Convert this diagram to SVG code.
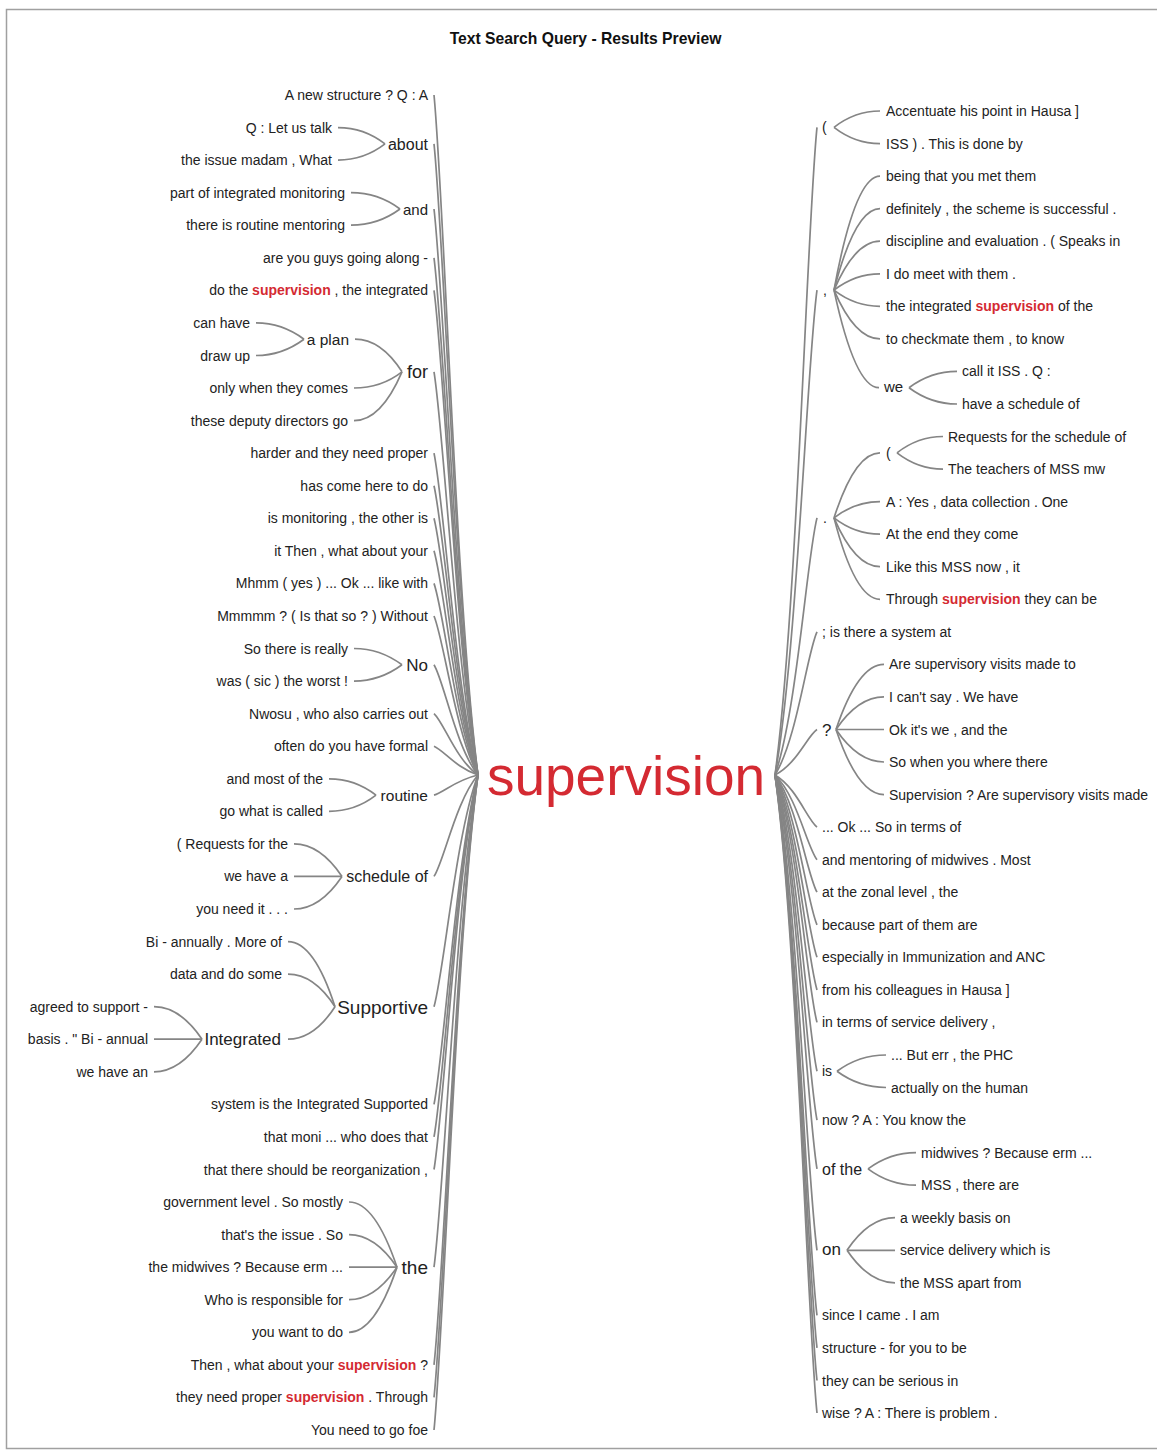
<svg xmlns="http://www.w3.org/2000/svg" width="1157" height="1452" viewBox="0 0 1157 1452">
<style>
text{font-family:"Liberation Sans",Arial,sans-serif;font-size:14px;fill:#222}
.l{text-anchor:end}
.h{fill:#d42a32;font-weight:bold}
#connectors path{fill:none;stroke:#858585;stroke-width:1.7}
</style>
<rect x="0" y="0" width="1157" height="1452" fill="#fff"/>
<rect x="6.5" y="9.5" width="1160" height="1439" fill="none" stroke="#a0a0a0" stroke-width="1.5"/>
<text x="585.5" y="44" text-anchor="middle" style="font-size:15.7px;font-weight:bold;fill:#111">Text Search Query - Results Preview</text>
<g id="root"><text x="626" y="795" text-anchor="middle" style="font-size:55px;fill:#d42a32">supervision</text></g>
<g id="connectors">
<path d="M434,95 C444,197 456,605 478,775"/>
<path d="M434,143.9 C444,238.6 456,617.2 478,775"/>
<path d="M434,209 C444,293.9 456,633.5 478,775"/>
<path d="M434,257.8 C444,335.4 456,645.7 478,775"/>
<path d="M434,290.4 C444,363.1 456,653.9 478,775"/>
<path d="M434,371.8 C444,432.3 456,674.2 478,775"/>
<path d="M434,453.2 C444,501.5 456,694.6 478,775"/>
<path d="M434,485.7 C444,529.1 456,702.7 478,775"/>
<path d="M434,518.3 C444,556.8 456,710.8 478,775"/>
<path d="M434,550.8 C444,584.4 456,719 478,775"/>
<path d="M434,583.4 C444,612.1 456,727.1 478,775"/>
<path d="M434,616 C444,639.9 456,735.3 478,775"/>
<path d="M434,664.8 C444,681.3 456,747.5 478,775"/>
<path d="M434,713.6 C444,722.8 456,759.7 478,775"/>
<path d="M434,746.2 C444,750.5 456,767.8 478,775"/>
<path d="M434,795.1 C444,792.1 456,780 478,775"/>
<path d="M434,876.4 C444,861.2 456,800.4 478,775"/>
<path d="M434,1006.7 C444,971.9 456,832.9 478,775"/>
<path d="M434,1104.4 C444,1055 456,857.4 478,775"/>
<path d="M434,1136.9 C444,1082.6 456,865.5 478,775"/>
<path d="M434,1169.5 C444,1110.3 456,873.6 478,775"/>
<path d="M434,1267.2 C444,1193.4 456,898.1 478,775"/>
<path d="M434,1364.8 C444,1276.3 456,922.5 478,775"/>
<path d="M434,1397.4 C444,1304 456,930.6 478,775"/>
<path d="M434,1430 C444,1331.8 456,938.8 478,775"/>
<path d="M338,127.6 Q364,127.6 385,143.9"/>
<path d="M338,160.1 Q364,160.1 385,143.9"/>
<path d="M351,192.7 Q378,192.7 400,209"/>
<path d="M351,225.2 Q378,225.2 400,209"/>
<path d="M355,339.2 Q381,339.2 402,371.8"/>
<path d="M354,388 Q381,388 402,371.8"/>
<path d="M354,420.6 Q381,420.6 402,371.8"/>
<path d="M256,322.9 Q282,322.9 304,339.2"/>
<path d="M256,355.5 Q282,355.5 304,339.2"/>
<path d="M354,648.5 Q380,648.5 402,664.8"/>
<path d="M354,681.1 Q380,681.1 402,664.8"/>
<path d="M329,778.8 Q355,778.8 376,795.1"/>
<path d="M329,811.3 Q355,811.3 376,795.1"/>
<path d="M294,843.9 Q320,843.9 342,876.4"/>
<path d="M294,876.4 L342,876.4"/>
<path d="M294,909 Q320,909 342,876.4"/>
<path d="M288,941.6 Q314,941.6 335,1006.7"/>
<path d="M288,974.1 Q314,974.1 335,1006.7"/>
<path d="M288,1039.2 Q314,1039.2 335,1006.7"/>
<path d="M154,1006.7 Q180,1006.7 202,1039.2"/>
<path d="M154,1039.2 L202,1039.2"/>
<path d="M154,1071.8 Q180,1071.8 202,1039.2"/>
<path d="M349,1202 Q375,1202 397,1267.2"/>
<path d="M349,1234.6 Q375,1234.6 397,1267.2"/>
<path d="M349,1267.2 L397,1267.2"/>
<path d="M349,1299.7 Q375,1299.7 397,1267.2"/>
<path d="M349,1332.3 Q375,1332.3 397,1267.2"/>
<path d="M775,775 C797,613.1 807,224.5 817,127.3"/>
<path d="M775,775 C797,653.8 807,362.8 817,290.1"/>
<path d="M775,775 C797,710.7 807,556.5 817,517.9"/>
<path d="M775,775 C797,739.2 807,653.3 817,631.8"/>
<path d="M775,775 C797,763.6 807,736.3 817,729.5"/>
<path d="M775,775 C797,788 807,819.3 817,827.1"/>
<path d="M775,775 C797,796.2 807,847 817,859.7"/>
<path d="M775,775 C797,804.3 807,874.6 817,892.2"/>
<path d="M775,775 C797,812.5 807,902.3 817,924.8"/>
<path d="M775,775 C797,820.6 807,930 817,957.3"/>
<path d="M775,775 C797,828.7 807,957.7 817,989.9"/>
<path d="M775,775 C797,836.9 807,985.3 817,1022.4"/>
<path d="M775,775 C797,849.1 807,1026.9 817,1071.3"/>
<path d="M775,775 C797,861.3 807,1068.3 817,1120.1"/>
<path d="M775,775 C797,873.5 807,1109.8 817,1168.9"/>
<path d="M775,775 C797,893.8 807,1179 817,1250.3"/>
<path d="M775,775 C797,910.1 807,1234.3 817,1315.4"/>
<path d="M775,775 C797,918.2 807,1262 817,1347.9"/>
<path d="M775,775 C797,926.4 807,1289.7 817,1380.5"/>
<path d="M775,775 C797,934.5 807,1317.3 817,1413"/>
<path d="M834,127.3 Q855,111 880,111"/>
<path d="M834,127.3 Q855,143.6 880,143.6"/>
<path d="M834,290.1 Q855,176.1 880,176.1"/>
<path d="M834,290.1 Q855,208.7 880,208.7"/>
<path d="M834,290.1 Q855,241.2 880,241.2"/>
<path d="M834,290.1 Q855,273.8 880,273.8"/>
<path d="M834,290.1 Q855,306.3 880,306.3"/>
<path d="M834,290.1 Q855,338.9 880,338.9"/>
<path d="M834,290.1 Q855,387.7 879,387.7"/>
<path d="M909,387.7 Q931,371.4 957,371.4"/>
<path d="M909,387.7 Q931,404 957,404"/>
<path d="M834,517.9 Q855,452.8 880,452.8"/>
<path d="M834,517.9 Q855,501.6 880,501.6"/>
<path d="M834,517.9 Q855,534.2 880,534.2"/>
<path d="M834,517.9 Q855,566.7 880,566.7"/>
<path d="M834,517.9 Q855,599.3 880,599.3"/>
<path d="M897,452.8 Q918,436.5 943,436.5"/>
<path d="M897,452.8 Q918,469.1 943,469.1"/>
<path d="M836,729.5 Q858,664.4 884,664.4"/>
<path d="M836,729.5 Q858,696.9 884,696.9"/>
<path d="M836,729.5 L884,729.5"/>
<path d="M836,729.5 Q858,762 884,762"/>
<path d="M836,729.5 Q858,794.6 884,794.6"/>
<path d="M837,1071.3 Q859,1055 886,1055"/>
<path d="M837,1071.3 Q859,1087.5 886,1087.5"/>
<path d="M868,1168.9 Q890,1152.6 916,1152.6"/>
<path d="M868,1168.9 Q890,1185.2 916,1185.2"/>
<path d="M847,1250.3 Q869,1217.7 895,1217.7"/>
<path d="M847,1250.3 L895,1250.3"/>
<path d="M847,1250.3 Q869,1282.8 895,1282.8"/>
</g>
<g id="L0"><text class="l" x="428" y="100">A new structure ? Q : A</text></g>
<g id="L-about"><text class="l" x="428" y="149.9" style="font-size:16px">about</text></g>
<g id="L1"><text class="l" x="332" y="132.6">Q : Let us talk</text></g>
<g id="L2"><text class="l" x="332" y="165.1">the issue madam , What</text></g>
<g id="L-and"><text class="l" x="428" y="214.5" style="font-size:15px">and</text></g>
<g id="L3"><text class="l" x="345" y="197.7">part of integrated monitoring</text></g>
<g id="L4"><text class="l" x="345" y="230.2">there is routine mentoring</text></g>
<g id="L5"><text class="l" x="428" y="262.8">are you guys going along -</text></g>
<g id="L6"><text class="l" x="428" y="295.4">do the <tspan class="h">supervision</tspan> , the integrated</text></g>
<g id="L-for"><text class="l" x="428" y="378.3" style="font-size:18px">for</text></g>
<g id="L-aplan"><text class="l" x="349" y="344.7" style="font-size:15.5px">a plan</text></g>
<g id="L7"><text class="l" x="250" y="327.9">can have</text></g>
<g id="L8"><text class="l" x="250" y="360.5">draw up</text></g>
<g id="L9"><text class="l" x="348" y="393">only when they comes</text></g>
<g id="L10"><text class="l" x="348" y="425.6">these deputy directors go</text></g>
<g id="L11"><text class="l" x="428" y="458.2">harder and they need proper</text></g>
<g id="L12"><text class="l" x="428" y="490.7">has come here to do</text></g>
<g id="L13"><text class="l" x="428" y="523.3">is monitoring , the other is</text></g>
<g id="L14"><text class="l" x="428" y="555.8">it Then , what about your</text></g>
<g id="L15"><text class="l" x="428" y="588.4">Mhmm ( yes ) ... Ok ... like with</text></g>
<g id="L16"><text class="l" x="428" y="621">Mmmmm ? ( Is that so ? ) Without</text></g>
<g id="L-No"><text class="l" x="428" y="670.8" style="font-size:17px">No</text></g>
<g id="L17"><text class="l" x="348" y="653.5">So there is really</text></g>
<g id="L18"><text class="l" x="348" y="686.1">was ( sic ) the worst !</text></g>
<g id="L19"><text class="l" x="428" y="718.6">Nwosu , who also carries out</text></g>
<g id="L20"><text class="l" x="428" y="751.2">often do you have formal</text></g>
<g id="L-routine"><text class="l" x="428" y="800.6" style="font-size:15.5px">routine</text></g>
<g id="L21"><text class="l" x="323" y="783.8">and most of the</text></g>
<g id="L22"><text class="l" x="323" y="816.3">go what is called</text></g>
<g id="L-schedule"><text class="l" x="428" y="882.4" style="font-size:16px">schedule of</text></g>
<g id="L23"><text class="l" x="288" y="848.9">( Requests for the</text></g>
<g id="L24"><text class="l" x="288" y="881.4">we have a</text></g>
<g id="L25"><text class="l" x="288" y="914">you need it . . .</text></g>
<g id="L-supportive"><text class="l" x="428" y="1013.7" style="font-size:19px">Supportive</text></g>
<g id="L26"><text class="l" x="282" y="946.6">Bi - annually . More of</text></g>
<g id="L27"><text class="l" x="282" y="979.1">data and do some</text></g>
<g id="L-integrated"><text class="l" x="281" y="1045.2" style="font-size:17px">Integrated</text></g>
<g id="L28"><text class="l" x="148" y="1011.7">agreed to support -</text></g>
<g id="L29"><text class="l" x="148" y="1044.2">basis . &quot; Bi - annual</text></g>
<g id="L30"><text class="l" x="148" y="1076.8">we have an</text></g>
<g id="L31"><text class="l" x="428" y="1109.4">system is the Integrated Supported</text></g>
<g id="L32"><text class="l" x="428" y="1141.9">that moni ... who does that</text></g>
<g id="L33"><text class="l" x="428" y="1174.5">that there should be reorganization ,</text></g>
<g id="L-the"><text class="l" x="428" y="1273.7" style="font-size:19px">the</text></g>
<g id="L34"><text class="l" x="343" y="1207">government level . So mostly</text></g>
<g id="L35"><text class="l" x="343" y="1239.6">that's the issue . So</text></g>
<g id="L36"><text class="l" x="343" y="1272.2">the midwives ? Because erm ...</text></g>
<g id="L37"><text class="l" x="343" y="1304.7">Who is responsible for</text></g>
<g id="L38"><text class="l" x="343" y="1337.3">you want to do</text></g>
<g id="L39"><text class="l" x="428" y="1369.8">Then , what about your <tspan class="h">supervision</tspan> ?</text></g>
<g id="L40"><text class="l" x="428" y="1402.4">they need proper <tspan class="h">supervision</tspan> . Through</text></g>
<g id="L41"><text class="l" x="428" y="1435">You need to go foe</text></g>
<g id="R-paren1"><text x="822" y="132.3">(</text></g>
<g id="R0"><text x="886" y="116">Accentuate his point in Hausa ]</text></g>
<g id="R1"><text x="886" y="148.6">ISS ) . This is done by</text></g>
<g id="R-comma"><text x="823" y="295.1">,</text></g>
<g id="R2"><text x="886" y="181.1">being that you met them</text></g>
<g id="R3"><text x="886" y="213.7">definitely , the scheme is successful .</text></g>
<g id="R4"><text x="886" y="246.2">discipline and evaluation . ( Speaks in</text></g>
<g id="R5"><text x="886" y="278.8">I do meet with them .</text></g>
<g id="R6"><text x="886" y="311.3">the integrated <tspan class="h">supervision</tspan> of the</text></g>
<g id="R7"><text x="886" y="343.9">to checkmate them , to know</text></g>
<g id="R-we"><text x="884" y="392.2" style="font-size:15px">we</text></g>
<g id="R8"><text x="962" y="376.4">call it ISS . Q :</text></g>
<g id="R9"><text x="962" y="409">have a schedule of</text></g>
<g id="R-dot"><text x="823" y="522.9">.</text></g>
<g id="R-paren2"><text x="886" y="457.8">(</text></g>
<g id="R10"><text x="948" y="441.5">Requests for the schedule of</text></g>
<g id="R11"><text x="948" y="474.1">The teachers of MSS mw</text></g>
<g id="R12"><text x="886" y="506.6">A : Yes , data collection . One</text></g>
<g id="R13"><text x="886" y="539.2">At the end they come</text></g>
<g id="R14"><text x="886" y="571.7">Like this MSS now , it</text></g>
<g id="R15"><text x="886" y="604.3">Through <tspan class="h">supervision</tspan> they can be</text></g>
<g id="R16"><text x="822" y="636.8">; is there a system at</text></g>
<g id="R-q"><text x="822" y="735.5" style="font-size:17px">?</text></g>
<g id="R17"><text x="889" y="669.4">Are supervisory visits made to</text></g>
<g id="R18"><text x="889" y="701.9">I can't say . We have</text></g>
<g id="R19"><text x="889" y="734.5">Ok it's we , and the</text></g>
<g id="R20"><text x="889" y="767">So when you where there</text></g>
<g id="R21"><text x="889" y="799.6">Supervision ? Are supervisory visits made</text></g>
<g id="R22"><text x="822" y="832.1">... Ok ... So in terms of</text></g>
<g id="R23"><text x="822" y="864.7">and mentoring of midwives . Most</text></g>
<g id="R24"><text x="822" y="897.2">at the zonal level , the</text></g>
<g id="R25"><text x="822" y="929.8">because part of them are</text></g>
<g id="R26"><text x="822" y="962.3">especially in Immunization and ANC</text></g>
<g id="R27"><text x="822" y="994.9">from his colleagues in Hausa ]</text></g>
<g id="R28"><text x="822" y="1027.4">in terms of service delivery ,</text></g>
<g id="R-is"><text x="822" y="1076">is</text></g>
<g id="R29"><text x="891" y="1060">... But err , the PHC</text></g>
<g id="R30"><text x="891" y="1092.5">actually on the human</text></g>
<g id="R31"><text x="822" y="1125.1">now ? A : You know the</text></g>
<g id="R-ofthe"><text x="822" y="1174.9" style="font-size:16px">of the</text></g>
<g id="R32"><text x="921" y="1157.6">midwives ? Because erm ...</text></g>
<g id="R33"><text x="921" y="1190.2">MSS , there are</text></g>
<g id="R-on"><text x="822" y="1254.8" style="font-size:17px">on</text></g>
<g id="R34"><text x="900" y="1222.7">a weekly basis on</text></g>
<g id="R35"><text x="900" y="1255.3">service delivery which is</text></g>
<g id="R36"><text x="900" y="1287.8">the MSS apart from</text></g>
<g id="R37"><text x="822" y="1320.4">since I came . I am</text></g>
<g id="R38"><text x="822" y="1352.9">structure - for you to be</text></g>
<g id="R39"><text x="822" y="1385.5">they can be serious in</text></g>
<g id="R40"><text x="822" y="1418">wise ? A : There is problem .</text></g>
</svg>
